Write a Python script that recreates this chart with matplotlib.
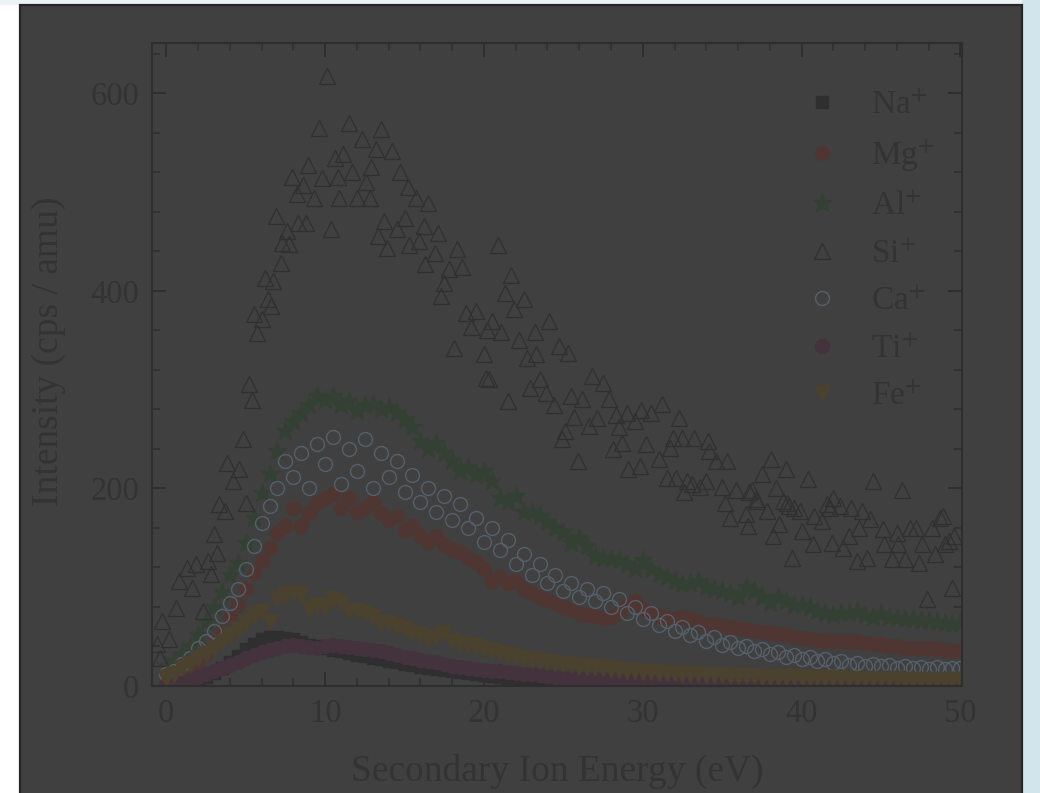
import numpy as np
import matplotlib
matplotlib.use("Agg")
import matplotlib.pyplot as plt
from matplotlib.patches import Rectangle

plt.rcParams['font.family'] = ['Liberation Serif', 'DejaVu Serif']
plt.rcParams['mathtext.fontset'] = 'stix'

# ---------------- data ----------------
energy = np.arange(0, 50.01, 0.5)

na_y = [1, 2, 3, 4, 6, 9, 13, 18, 24, 30,
        37, 43, 48, 50, 50, 49, 48, 45, 42, 40,
        38, 36, 35, 33, 31, 30, 28, 27, 25, 24,
        22, 21, 19, 18, 17, 16, 15, 14, 13, 12,
        11, 10, 9, 8, 7, 7, 6, 5, 5, 4,
        4, 4, 3, 3, 3, 3, 3, 2, 2, 2,
        2, 2, 2, 2, 2, 2, 2, 2, 1, 1,
        1, 1, 1, 1, 1, 1, 1, 1, 1, 1,
        1, 1, 1, 1, 1, 1, 1, 1, 1, 1,
        1, 1, 1, 1, 1, 1, 1, 1, 1, 1,
        1]

mg_y = [5, 7, 12, 18, 25, 32, 45, 55, 70, 82,
        98, 114, 127, 140, 155, 162, 180, 162, 175, 185,
        190, 194, 180, 190, 176, 180, 186, 175, 168, 172,
        158, 162, 152, 146, 152, 143, 139, 136, 130, 126,
        118, 106, 110, 104, 106, 98, 94, 90, 87, 84,
        80, 77, 74, 72, 71, 69, 70, 74, 82, 86,
        78, 74, 71, 69, 68, 70, 68, 66, 63, 62,
        61, 60, 59, 58, 56, 55, 54, 53, 52, 50,
        49, 48, 47, 46, 46, 46, 45, 46, 44, 43,
        43, 41, 40, 38, 38, 38, 38, 37, 36, 35,
        35]

al_y = [20, 25, 32, 40, 52, 65, 80, 95, 112, 125,
        145, 170, 195, 215, 238, 258, 268, 276, 285, 294,
        290, 294, 285, 289, 278, 284, 286, 280, 282, 276,
        270, 262, 248, 240, 246, 236, 228, 218, 222, 214,
        218, 208, 190, 186, 192, 176, 176, 172, 166, 160,
        156, 145, 150, 142, 132, 130, 129, 128, 124, 118,
        128, 118, 113, 110, 106, 103, 104, 106, 100, 98,
        96, 94, 90, 100, 96, 90, 84, 90, 86, 82,
        82, 80, 76, 74, 72, 74, 74, 76, 72, 70,
        73, 70, 69, 68, 68, 67, 66, 65, 64, 63,
        64]

ca_y = [12, 15, 22, 28, 38, 46, 56, 71, 84, 98,
        118, 142, 165, 182, 200, 228, 212, 236, 200, 245,
        225, 252, 205, 240, 218, 250, 200, 236, 212, 228,
        196, 214, 186, 200, 176, 192, 168, 184, 160, 170,
        146, 160, 138, 148, 124, 134, 112, 124, 104, 112,
        96, 104, 90, 98, 86, 94, 80, 88, 74, 80,
        68, 74, 62, 66, 56, 60, 52, 55, 46, 50,
        42, 45, 38, 41, 35, 37, 32, 34, 29, 31,
        27, 29, 25, 27, 23, 25, 21, 23, 20, 22,
        20, 21, 18, 20, 18, 19, 17, 19, 17, 18,
        18]

ti_y = [1, 2, 4, 6, 9, 12, 15, 18, 21, 24,
        28, 31, 34, 36, 38, 40, 42, 40, 39, 38,
        40, 42, 40, 39, 38, 37, 36, 35, 33, 31,
        29, 28, 26, 25, 24, 22, 20, 19, 18, 17,
        16, 15, 15, 14, 13, 12, 12, 11, 10, 9,
        8, 8, 8, 7, 7, 7, 7, 6, 6, 6,
        6, 6, 6, 6, 6, 6, 5, 5, 5, 5,
        5, 5, 5, 5, 5, 5, 5, 5, 5, 5,
        5, 5, 5, 5, 5, 5, 5, 5, 5, 5,
        5, 5, 5, 5, 5, 5, 4, 4, 4, 4,
        4]

fe_y = [8, 12, 18, 22, 28, 32, 38, 45, 52, 57,
        64, 72, 75, 65, 88, 92, 94, 92, 78, 82,
        80, 88, 84, 76, 76, 74, 70, 64, 64, 60,
        58, 54, 52, 48, 50, 54, 46, 43, 42, 40,
        37, 35, 33, 31, 29, 27, 26, 25, 24, 23,
        22, 21, 20, 19, 19, 18, 17, 16, 15, 15,
        14, 14, 13, 13, 13, 12, 12, 12, 11, 11,
        11, 10, 10, 10, 10, 9, 9, 9, 9, 9,
        8, 8, 8, 8, 8, 8, 7, 7, 7, 7,
        7, 7, 7, 6, 6, 6, 6, 6, 6, 6,
        6]

si_x = [-0.6, -0.4, -0.3, 0.2, 0.6, 0.8, 1.3, 1.6, 1.9, 2.3,
        2.6, 2.8, 3.0, 3.2, 3.3, 3.7, 3.8, 4.2, 4.6, 4.8,
        5.0, 5.2, 5.4, 5.5, 5.7, 6.0, 6.2, 6.4, 6.6, 6.7,
        6.9, 7.2, 7.3, 7.6, 7.7, 7.9, 8.2, 8.3, 8.6, 8.8,
        8.9, 9.3, 9.6, 9.8, 10.1, 10.4, 10.6, 10.8, 10.9, 11.1,
        11.5, 11.7, 12.0, 12.3, 12.6, 12.8, 12.9, 13.2, 13.3, 13.5,
        13.7, 13.9, 14.2, 14.5, 14.7, 15.0, 15.2, 15.3, 15.7, 15.9,
        16.2, 16.3, 16.5, 16.9, 17.1, 17.3, 17.5, 17.8, 18.1, 18.3,
        18.6, 18.9, 19.2, 19.5, 20.0, 20.1, 20.2, 20.3, 20.5, 20.9,
        21.1, 21.3, 21.5, 21.7, 21.9, 22.2, 22.5, 22.7, 22.9, 23.2,
        23.3, 23.5, 23.9, 24.1, 24.4, 24.7, 24.9, 25.1, 25.3, 25.5,
        25.7, 25.9, 26.2, 26.6, 26.8, 27.1, 27.5, 27.9, 28.1, 28.3,
        28.5, 28.7, 29.0, 29.1, 29.5, 29.8, 29.9, 30.2, 30.5, 31.0,
        31.2, 31.5, 31.7, 31.9, 32.1, 32.3, 32.5, 32.6, 32.8, 33.1,
        33.2, 33.6, 34.0, 34.1, 34.2, 34.6, 35.0, 35.2, 35.3, 35.5,
        35.9, 36.5, 36.6, 36.7, 36.9, 37.1, 37.2, 37.5, 37.8, 38.1,
        38.2, 38.4, 38.6, 38.8, 39.0, 39.1, 39.2, 39.4, 39.5, 39.9,
        40.0, 40.4, 40.7, 40.8, 41.3, 41.6, 41.8, 41.9, 42.0, 42.4,
        42.6, 43.0, 43.1, 43.5, 43.6, 43.8, 44.1, 44.3, 44.5, 45.1,
        45.2, 45.7, 46.0, 46.1, 46.3, 46.5, 46.8, 47.2, 47.4, 47.6,
        47.9, 48.2, 48.4, 48.7, 48.9, 49.0, 49.3, 49.5, 49.6]

si_y = [43, 28, 66, 48, 79, 106, 119, 99, 124, 76,
        127, 113, 154, 135, 184, 177, 226, 208, 220, 250,
        185, 306, 290, 377, 357, 372, 413, 392, 385, 410,
        476, 428, 449, 461, 448, 515, 498, 469, 507, 469,
        527, 494, 565, 514, 618, 463, 535, 515, 494, 539,
        570, 520, 494, 554, 510, 494, 525, 544, 456, 564,
        471, 443, 542, 463, 520, 474, 505, 446, 494, 451,
        466, 427, 489, 438, 459, 395, 408, 422, 342, 442,
        424, 378, 363, 380, 336, 312, 360, 311, 370, 446,
        358, 398, 289, 416, 382, 350, 392, 332, 302, 358,
        336, 311, 297, 370, 284, 344, 250, 258, 337, 294,
        272, 228, 291, 263, 314, 271, 307, 291, 240, 274,
        262, 246, 276, 220, 268, 223, 279, 245, 276, 230,
        286, 211, 241, 251, 211, 271, 251, 196, 208, 205,
        251, 201, 208, 248, 238, 228, 201, 185, 228, 170,
        198, 174, 162, 196, 198, 189, 187, 215, 177, 230,
        152, 200, 164, 187, 220, 185, 182, 130, 180, 177,
        157, 210, 144, 172, 167, 184, 180, 145, 190, 182,
        140, 152, 180, 127, 160, 177, 130, 169, 208, 159,
        144, 129, 155, 144, 198, 129, 160, 160, 125, 144,
        88, 160, 134, 170, 172, 144, 147, 99, 152]

x_ticks = [0, 10, 20, 30, 40, 50]
y_ticks = [0, 200, 400, 600]
x_label = "Secondary Ion Energy (eV)"
y_label = "Intensity (cps / amu)"

# ---------------- figure ----------------
W, H = 1040, 793
fig = plt.figure(figsize=(W / 100, H / 100), dpi=100, facecolor='white')

# surrounding page strips
fig.patches.append(Rectangle((0, 1 - 5 / H), 1, 5 / H, transform=fig.transFigure,
                             facecolor='#eef3f6', edgecolor='none', zorder=-3))
fig.patches.append(Rectangle((1022 / W, 0), 1 - 1022 / W, 1, transform=fig.transFigure,
                             facecolor='#d3e5ec', edgecolor='none', zorder=-3))
# dark panel
fig.patches.append(Rectangle((20 / W, -0.01), 1002 / W, 1 - 5 / H + 0.01,
                             transform=fig.transFigure, facecolor='#404040',
                             edgecolor='#262626', linewidth=1.6, zorder=-2))

ax = fig.add_axes([152 / W, (H - 686) / H, 810 / W, 643 / H])
ax.set_facecolor('none')

txt = '#333333'
spc = '#2e2e2e'

ms_kw = dict(linestyle='none')
ax.plot(energy, na_y, marker='s', ms=8, color='#2f2f2f', mec='#2f2f2f', label=r'Na$^{+}$', **ms_kw)
ax.plot(energy, mg_y, marker='o', ms=10, color='#4f3633', mec='#4f3633', label=r'Mg$^{+}$', **ms_kw)
ax.plot(energy, al_y, marker='*', ms=14, color='#344034', mec='#344034', label=r'Al$^{+}$', **ms_kw)
ax.plot(si_x, si_y, marker='^', ms=12, mfc='none', mec='#303030', mew=0.9, label=r'Si$^{+}$', **ms_kw)
ax.plot(energy, ca_y, marker='o', ms=10, mfc='none', mec='#56606a', mew=1.0, label=r'Ca$^{+}$', **ms_kw)
ax.plot(energy, ti_y, marker='o', ms=10, color='#44333c', mec='#44333c', label=r'Ti$^{+}$', **ms_kw)
ax.plot(energy, fe_y, marker='v', ms=11, color='#4a412f', mec='#4a412f', label=r'Fe$^{+}$', **ms_kw)

ax.set_xlim(-0.9, 50.1)
ax.set_ylim(0, 651)
ax.set_xticks(x_ticks)
ax.set_yticks(y_ticks)
ax.set_xticks(np.arange(-0, 51, 2), minor=True)
ax.set_yticks(np.arange(0, 641, 40), minor=True)

for s in ax.spines.values():
    s.set_color(spc)
    s.set_linewidth(1.5)

ax.tick_params(which='both', direction='in', top=True, right=True, colors=spc,
               labelcolor=txt, labelsize=23.5)
ax.tick_params(which='major', length=10, width=1.3, pad=9)
ax.tick_params(which='minor', length=5.5, width=1.1)

ax.set_xlabel(x_label, fontsize=27, color=txt, labelpad=18)
ax.set_ylabel(y_label, fontsize=27, color=txt, labelpad=18)
ax.yaxis.label.set_y(0.52)

leg = ax.legend(loc='upper left', bbox_to_anchor=(0.807, 0.926), frameon=False,
                fontsize=24, handlelength=1.0, handletextpad=0.95,
                labelspacing=0.51, borderpad=0, borderaxespad=0)
for t in leg.get_texts():
    t.set_color(txt)

fig.savefig('out.png', dpi=100, facecolor='white')
